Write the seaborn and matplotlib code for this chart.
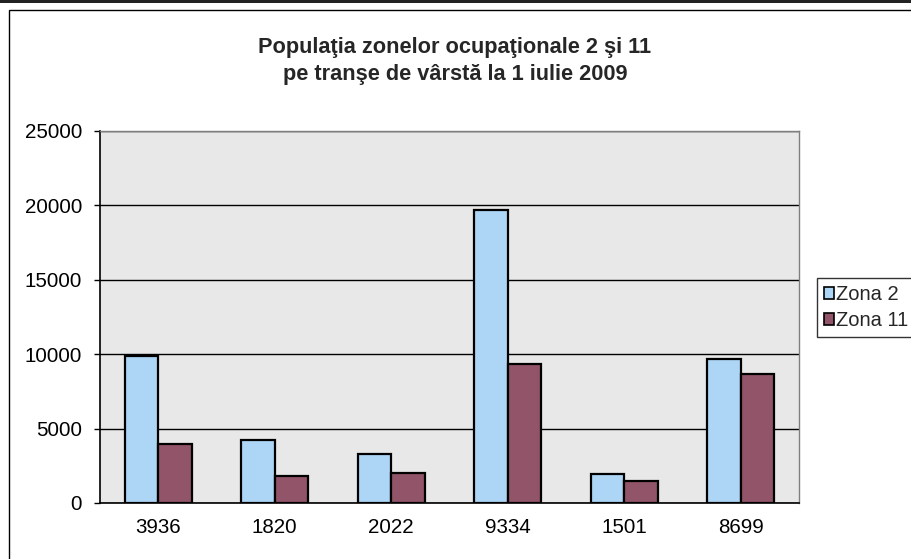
"""
Populatia zonelor ocupationale 2 si 11 pe transe de varsta (bar chart).
"""

import matplotlib
matplotlib.use('Agg')
import matplotlib.pyplot as plt
import numpy as np
import pandas as pd
import seaborn as sns
from matplotlib.patches import Rectangle

categories = ['3936', '1820', '2022', '9334', '1501', '8699']
zona_2 = [9900, 4250, 3300, 19700, 1950, 9700]
zona_11 = [3936, 1820, 2022, 9334, 1501, 8699]
series_names = ['Zona 2', 'Zona 11']
y_ticks = [0, 5000, 10000, 15000, 20000, 25000]

TITLE = 'Populaţia zonelor ocupaţionale 2 şi 11\npe tranşe de vârstă la 1 iulie 2009'
COLORS = ['#ADD6F6', '#915468']

sns.set_style('white')
plt.rcParams['font.family'] = ['Liberation Sans', 'DejaVu Sans']

df = pd.DataFrame({
    'categorie': categories * 2,
    'valoare': zona_2 + zona_11,
    'zona': [series_names[0]] * len(categories) + [series_names[1]] * len(categories),
})

fig = plt.figure(figsize=(9.11, 5.59), dpi=100)
ax = fig.add_axes([100 / 911, 56 / 559, 699 / 911, 372 / 559])

sns.barplot(
    data=df, x='categorie', y='valoare', hue='zona', order=categories,
    hue_order=series_names, palette=COLORS, width=0.575, saturation=1,
    edgecolor='black', linewidth=1.6, ax=ax, legend=True,
)

ax.set_facecolor('#E8E8E8')
ax.set_ylim(0, 25000)
ax.set_xlim(-0.5, len(categories) - 0.5)
ax.set_yticks(y_ticks)
ax.set_yticklabels([str(t) for t in y_ticks])
ax.yaxis.grid(True, color='black', linewidth=1.0)
ax.set_axisbelow(True)
ax.set_xlabel('')
ax.set_ylabel('')

# ticks between categories, like the Excel original
ax.set_xticks(np.arange(-0.5, len(categories), 1), minor=True)
ax.tick_params(axis='x', which='major', length=0, pad=11, labelsize=14.8, colors='black')
ax.tick_params(axis='x', which='minor', length=5, width=1, direction='out', color='black')
ax.tick_params(axis='y', length=4, width=1, pad=9, labelsize=14.8, colors='black', left=True)

for side in ['left', 'bottom']:
    ax.spines[side].set_color('black')
    ax.spines[side].set_linewidth(1.2)
for side in ['top', 'right']:
    ax.spines[side].set_color('#7F7F7F')
    ax.spines[side].set_linewidth(1.0)
    ax.spines[side].set_visible(True)

ax.legend_.remove()
handles = [Rectangle((0, 0), 1, 1, facecolor=c, edgecolor='black', linewidth=1.2) for c in COLORS]
fig.legend(
    handles, series_names, loc='upper left', bbox_to_anchor=(817 / 911, 1 - 278 / 559),
    frameon=True, fancybox=False, edgecolor='black', fontsize=14.5,
    handlelength=0.5, handleheight=0.5, handletextpad=0.1, labelspacing=0.35,
    borderpad=0.35, borderaxespad=0,
).get_frame().set_linewidth(1.0)

fig.text(455 / 911, 1 - 61 / 559, TITLE, ha='center', va='center',
         fontsize=15.7, fontweight='bold', linespacing=1.4)

# outer chart frame and the dark scan band at the top
fig.patches.append(Rectangle((9 / 911, -0.1), 1.2, 1.1 - 10 / 559,
                             transform=fig.transFigure, fill=False,
                             edgecolor='black', linewidth=1.0))
fig.patches.append(Rectangle((0, 1 - 3 / 559), 1, 3 / 559, transform=fig.transFigure,
                             facecolor='#222222', edgecolor='none'))

fig.savefig('out.png', dpi=100)
